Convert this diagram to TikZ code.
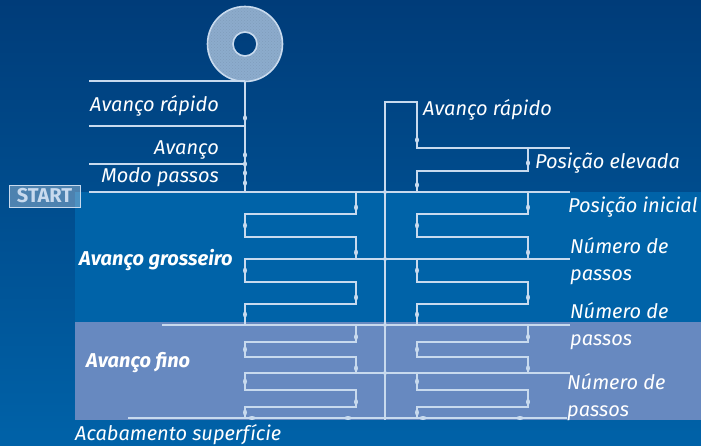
\documentclass[tikz,border=0pt]{standalone}
\usepackage{fontspec}
\setsansfont{Fira Sans}
\usetikzlibrary{patterns}

\definecolor{bgTop}{RGB}{0,60,121}
\definecolor{bgBottom}{RGB}{0,98,168}
\definecolor{bandCoarse}{RGB}{0,99,168}
\definecolor{bandFine}{RGB}{103,137,192}
\definecolor{wireColor}{RGB}{200,218,238}

\begin{document}
\begin{tikzpicture}[x = 1pt, y = -1pt, font = \sffamily\itshape\fontsize{20}{27}\selectfont]
	\tikzstyle{wire} = [draw = wireColor, line width = 1.6pt]
	\tikzstyle{bead} = [fill = wireColor]
	\tikzstyle{labelStyle} = [text = white, inner sep = 0pt, align = left]
	\tikzstyle{boldStyle} = [labelStyle, font = \sffamily\bfseries\itshape\fontsize{20}{24}\selectfont]
	\tikzstyle{startStyle} = [draw = wireColor, line width = 1pt, fill = white, fill opacity = 0.3, text opacity = 1, text = wireColor, minimum width = 71pt, minimum height = 22pt, inner sep = 0pt, font = \sffamily\bfseries\fontsize{20}{20}\selectfont]
	\useasboundingbox (0,0) rectangle (701,445);
	% background and bands
	\shade[top color = bgTop, bottom color = bgBottom] (0,0) rectangle (701,445);
	\fill[bandCoarse] (75,192) rectangle (701,322);
	\fill[bandFine] (75,322) rectangle (701,420);
	% grinding wheel
	\fill[wireColor, fill opacity = 0.7, even odd rule] (245,44) circle (37.5pt) (245,44) circle (12pt);
	\fill[pattern = crosshatch dots, pattern color = bgTop!50!white, even odd rule] (245,44) circle (37pt) (245,44) circle (12.5pt);
	\draw[wire] (245,44) circle (37.5pt) (245,44) circle (12pt);
	% feed lines at the top
	\draw[wire] (245,82) -- (245,192);
	\foreach \y in {81,126,164}
		\draw[wire] (89,\y) -- (245,\y);
	\foreach \y in {118,155,164,173,183}
		\fill[bead] (245,\y) ellipse (2pt and 3pt);
	\draw[wire] (385,420) -- (385,102) -- (417,102) -- (417,148) -- (570,148);
	\draw[wire] (528,148) -- (528,171) -- (417,171) -- (417,192);
	\foreach \x/\y in {417/140, 528/163, 417/185}
		\fill[bead] (\x,\y) ellipse (2pt and 3pt);
	% level lines
	\draw[wire] (89,192) -- (570,192);
	\draw[wire] (245,259) -- (570,259);
	\draw[wire] (162,325) -- (570,325);
	\draw[wire] (245,373) -- (570,373);
	\draw[wire] (128,418) -- (567,418);
	% serpentines
	\foreach \dx in {0,172}
		\draw[wire] (245+\dx,192) \foreach \a/\b/\c in {192/214/237, 237/259/282, 282/304/325, 325/342/357, 357/373/390, 390/407/418}
			{ -- (356+\dx,\a) -- (356+\dx,\b) -- (245+\dx,\b) -- (245+\dx,\c) };
	\foreach \dx in {0,172}
		\foreach \a/\b/\c in {192/214/237, 237/259/282, 282/304/325, 325/342/357, 357/373/390, 390/407/418} {
			\fill[bead] (356+\dx,{0.3*\a+0.7*\b}) ellipse (2pt and 3pt);
			\fill[bead] (245+\dx,{0.5*\b+0.5*\c}) ellipse (2pt and 3pt);
		}
	\foreach \y in {192,259,325,373}
		\fill[bead] (385,\y) circle (2pt);
	\foreach \x in {252,348,423,520}
		\fill[bead] (\x,418) ellipse (3.5pt and 2pt);
	% texts
	\node[startStyle] (start) at (44.5,196) {START};
	\node[labelStyle, anchor = east] (fastLeft) at (219,106) {Avanço rápido};
	\node[labelStyle, anchor = east] (feed) at (219,150) {Avanço};
	\node[labelStyle, anchor = east] (stepMode) at (219,177) {Modo passos};
	\node[labelStyle, anchor = west] (fastRight) at (423,110) {Avanço rápido};
	\node[labelStyle, anchor = west] (raised) at (535,163) {Posição elevada};
	\node[labelStyle, anchor = west] (initial) at (568,207) {Posição inicial};
	\node[labelStyle, anchor = west] (stepsA) at (570,261) {Número de\\passos};
	\node[labelStyle, anchor = west] (stepsB) at (570,326) {Número de\\passos};
	\node[labelStyle, anchor = west] (stepsC) at (567,397) {Número de\\passos};
	\node[boldStyle, anchor = west] (coarse) at (79,260) {Avanço grosseiro};
	\node[boldStyle, anchor = west] (fine) at (86,363) {Avanço fino};
	\node[labelStyle, anchor = west] (finish) at (75,435) {Acabamento superfície};
\end{tikzpicture}
\end{document}
